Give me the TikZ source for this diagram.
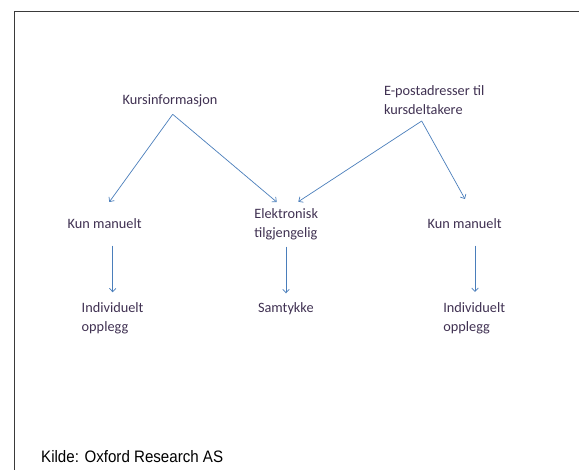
\documentclass[tikz,border=0pt]{standalone}
\usepackage{fontspec}
\setmainfont{Carlito}
\newfontfamily\kildefont[FakeStretch=0.91]{Liberation Sans}
\usetikzlibrary{arrows.meta}
\definecolor{txtcol}{HTML}{403152}
\definecolor{arrcol}{HTML}{4A7EBB}
\definecolor{framecol}{HTML}{3A3A3A}
\newcommand\twoline[2]{\begin{tabular}[t]{@{}l@{}}#1\\#2\end{tabular}}
\begin{document}
\begin{tikzpicture}[x=1pt,y=-1pt,
  txt/.style={inner sep=0pt, outer sep=0pt, anchor=base west, text=txtcol,
    font=\fontsize{14.3}{18.4}\selectfont},
  arr/.style={draw=arrcol, line width=0.7pt, -{Straight Barb[length=3.5pt,width=6.5pt]}},
  framebox/.style={draw=framecol, line width=1pt}]
\useasboundingbox (0,0) rectangle (579,470);
\draw[framebox] (14,471) -- (14,12) -- (580,12);
% nodes
\node[txt] (kurs)  at (122.7,104.5) {Kursinformasjon};
\node[txt] (epost) at (384,96) {\twoline{E-postadresser til}{kursdeltakere}};
\node[txt] (kml)   at (67.7,228.3) {Kun manuelt};
\node[txt] (elek)  at (254.3,219) {\twoline{Elektronisk}{tilgjengelig}};
\node[txt] (kmr)   at (427.7,228.3) {Kun manuelt};
\node[txt] (indl)  at (81.7,312.7) {\twoline{Individuelt}{opplegg}};
\node[txt] (samt)  at (258,312.7) {Samtykke};
\node[txt] (indr)  at (443.3,312.7) {\twoline{Individuelt}{opplegg}};
\node[inner sep=0pt, anchor=base west, font=\kildefont\fontsize{16.6}{19}\selectfont] (kilde) at (41,463) {Kilde: Oxford Research AS};
% connectors
\draw[arr] ([shift={(50,9.8)}]kurs.base west) -- ([shift={(41.6,-26.3)}]kml.base west);
\draw[arr] ([shift={(50,9.8)}]kurs.base west) -- ([shift={(22.4,-17)}]elek.base west);
\draw[arr] ([shift={(37.7,25)}]epost.base west) -- ([shift={(44,-17.3)}]elek.base west);
\draw[arr] ([shift={(37.7,25)}]epost.base west) -- ([shift={(37.3,-29.3)}]kmr.base west);
\draw[arr] ([shift={(45,17.4)}]kml.base west) -- ([shift={(31,-20.4)}]indl.base west);
\draw[arr] ([shift={(31.7,27.7)}]elek.base west) -- ([shift={(28,-19.4)}]samt.base west);
\draw[arr] ([shift={(47.3,17.4)}]kmr.base west) -- ([shift={(31.7,-20.7)}]indr.base west);
\end{tikzpicture}
\end{document}
